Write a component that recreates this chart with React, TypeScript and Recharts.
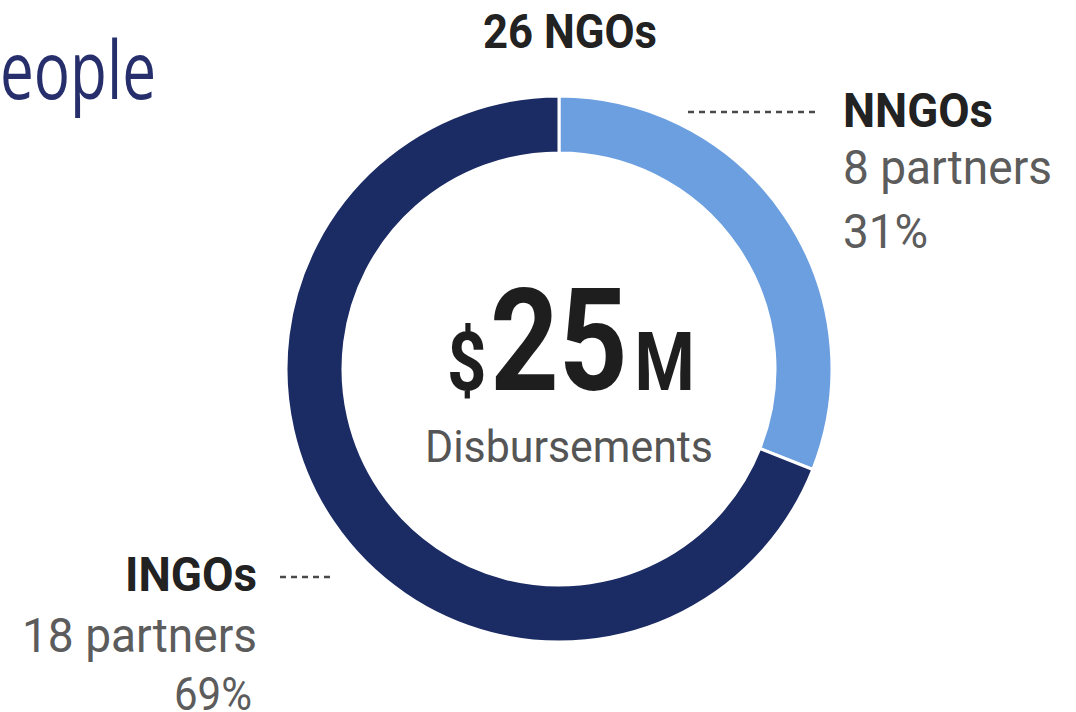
import React from 'react';
import { PieChart, Pie, Cell } from 'recharts';

const segmentNames = ['NNGOs', 'INGOs'];
const segmentShares = [31, 69];
const segmentPartners = [8, 18];
const segmentColors = ['#6c9fe0', '#1b2b63'];
const totalNgos = 26;
const totalDisbursedM = 25;
const centerCaption = 'Disbursements';
const headingFragment = 'eople';

const pieData = segmentNames.map((name, i) => ({
  name,
  value: segmentShares[i],
  partners: segmentPartners[i],
}));

const W = 1076;
const H = 712;
const CX = 559;
const CY = 369;

const condensed = 'Roboto, "Liberation Sans", sans-serif';

// SVG text squeezed to a fixed width so Roboto reads like the condensed face
const Squeezed: React.FC<{
  x: number;
  y: number;
  w: number;
  size: number;
  weight?: number;
  fill: string;
  anchor?: 'start' | 'end';
  family?: string;
  children: string;
}> = ({ x, y, w, size, weight = 400, fill, anchor = 'start', family = condensed, children }) => (
  <text
    x={anchor === 'end' ? x - w : x}
    y={y}
    fontSize={size}
    fontWeight={weight}
    fontFamily={family}
    fill={fill}
    textLength={w}
    lengthAdjust="spacingAndGlyphs"
  >
    {children}
  </text>
);

export default function App() {
  const nngo = pieData[0];
  const ingo = pieData[1];

  return (
    <div style={{ position: 'absolute', left: 0, top: 0, width: W, height: H, background: '#fff', overflow: 'hidden' }}>
      <PieChart width={W} height={H} margin={{ top: 0, right: 0, bottom: 0, left: 0 }}>
        <Pie
          data={pieData}
          dataKey="value"
          nameKey="name"
          cx={CX}
          cy={CY}
          innerRadius={216}
          outerRadius={273}
          startAngle={90}
          endAngle={-270}
          stroke="#ffffff"
          strokeWidth={3}
          isAnimationActive={false}
        >
          {pieData.map((d, i) => (
            <Cell key={d.name} fill={segmentColors[i]} />
          ))}
        </Pie>
      </PieChart>

      <svg width={W} height={H} style={{ position: 'absolute', left: 0, top: 0, pointerEvents: 'none' }}>
        {/* cut-off slide heading */}
        <Squeezed x={0} y={99} w={156} size={80} fill="#262f6c" family='"Open Sans", "Noto Sans", sans-serif'>
          {headingFragment}
        </Squeezed>

        {/* total on top */}
        <Squeezed x={483} y={48} w={174} size={48} weight={700} fill="#222222">
          {`${totalNgos} NGOs`}
        </Squeezed>

        {/* centre: one run of mixed sizes, narrowed as a whole */}
        <text
          transform={`translate(447, 390) scale(0.84, 1)`}
          x={0}
          y={0}
          fontFamily={condensed}
          fontWeight={700}
          fill="#1e1e1e"
        >
          <tspan fontSize={82}>$</tspan>
          <tspan fontSize={143} dx={4}>{String(totalDisbursedM)}</tspan>
          <tspan fontSize={82} dx={8}>M</tspan>
        </text>
        <Squeezed x={425} y={462} w={288} size={45} fill="#555555">
          {centerCaption}
        </Squeezed>

        {/* NNGOs callout */}
        <line x1={688} y1={112} x2={817} y2={112} stroke="#4a4a4a" strokeWidth={2.5} strokeDasharray="6 5" />
        <Squeezed x={843} y={127} w={150} size={48} weight={700} fill="#222222">
          {nngo.name}
        </Squeezed>
        <Squeezed x={843} y={184} w={209} size={48} fill="#5c5c5c">
          {`${nngo.partners} partners`}
        </Squeezed>
        <Squeezed x={843} y={248} w={85} size={48} fill="#5c5c5c">
          {`${nngo.value}%`}
        </Squeezed>

        {/* INGOs callout */}
        <line x1={280} y1={577} x2={330} y2={577} stroke="#4a4a4a" strokeWidth={2.5} strokeDasharray="6 5" />
        <Squeezed x={257} y={591} w={132} size={48} weight={700} fill="#222222" anchor="end">
          {ingo.name}
        </Squeezed>
        <Squeezed x={257} y={652} w={235} size={48} fill="#5c5c5c" anchor="end">
          {`${ingo.partners} partners`}
        </Squeezed>
        <Squeezed x={252} y={710} w={78} size={46} fill="#5c5c5c" anchor="end">
          {`${ingo.value}%`}
        </Squeezed>
      </svg>
    </div>
  );
}
